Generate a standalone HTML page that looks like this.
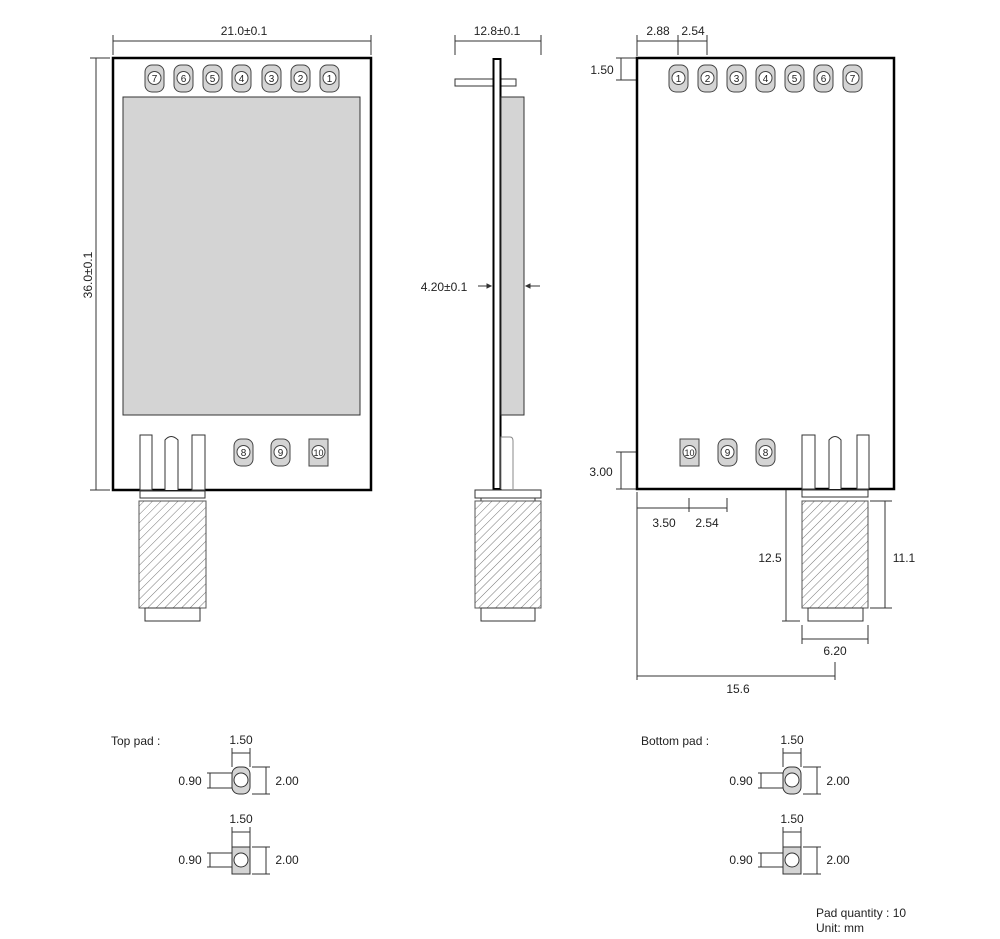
<!DOCTYPE html>
<html><head><meta charset="utf-8"><style>
html,body{margin:0;padding:0;background:#fff;width:1000px;height:939px;overflow:hidden}
svg{display:block}
text{font-family:"Liberation Sans",sans-serif;font-size:12px;fill:#222}
.pn{font-size:10px;text-anchor:middle}
</style></head><body>
<svg width="1000" height="939" viewBox="0 0 1000 939" xmlns="http://www.w3.org/2000/svg">
<defs>
<pattern id="h" width="6" height="6" patternUnits="userSpaceOnUse" patternTransform="rotate(45)">
<rect width="6" height="6" fill="#fff"/><line x1="0" y1="0" x2="0" y2="6" stroke="#777" stroke-width="1"/>
</pattern>
</defs>
<g fill="none" stroke="#333" stroke-width="1">
<!-- LEFT VIEW -->
<line x1="113" y1="41" x2="371" y2="41"/><line x1="113" y1="35" x2="113" y2="55"/><line x1="371" y1="35" x2="371" y2="55"/>
<line x1="96" y1="58" x2="96" y2="490"/><line x1="90" y1="58" x2="110" y2="58"/><line x1="90" y1="490" x2="110" y2="490"/>
<rect x="113" y="58" width="258" height="432" stroke="#000" stroke-width="2.5"/>
<rect x="123" y="97" width="237" height="318" fill="#d4d4d4" stroke="#333"/>
<rect x="140" y="435" width="12" height="55" fill="#fff"/>
<path d="M165 490 V440 Q171 433 178 440 V490" fill="#fff"/>
<rect x="192" y="435" width="13" height="55" fill="#fff"/>
<rect x="140" y="491" width="65" height="7" fill="#fff"/>
<rect x="139" y="501" width="67" height="107" fill="url(#h)" stroke="#555"/>
<rect x="145" y="608" width="55" height="13" fill="#fff"/>
<!-- SIDE VIEW -->
<line x1="455" y1="41" x2="541" y2="41"/><line x1="455" y1="35" x2="455" y2="55"/><line x1="541" y1="35" x2="541" y2="55"/>
<rect x="455" y="79" width="61" height="7" fill="#fff"/>
<rect x="493.5" y="59" width="7" height="430" fill="#fff" stroke="#000" stroke-width="2"/>
<rect x="501" y="97" width="23" height="318" fill="#d4d4d4"/>
<path d="M501 489 V437 H510 Q513 437 513 441 V489" fill="#fff" stroke="#888"/>
<rect x="475" y="490" width="66" height="8" fill="#fff"/>
<line x1="481" y1="498" x2="481" y2="501"/><line x1="535" y1="498" x2="535" y2="501"/>
<rect x="475" y="501" width="66" height="107" fill="url(#h)" stroke="#555"/>
<rect x="481" y="608" width="54" height="13" fill="#fff"/>
<line x1="478" y1="286" x2="491" y2="286"/><path d="M491 286 l-4 -2 v4z" fill="#333"/>
<line x1="526" y1="286" x2="540" y2="286"/><path d="M526 286 l4 -2 v4z" fill="#333"/>
<!-- RIGHT VIEW -->
<line x1="637" y1="41" x2="707" y2="41"/><line x1="637" y1="35" x2="637" y2="56"/><line x1="678" y1="35" x2="678" y2="55"/><line x1="707" y1="35" x2="707" y2="55"/>
<line x1="621" y1="58" x2="621" y2="80"/><line x1="616" y1="58" x2="636" y2="58"/><line x1="616" y1="80" x2="636" y2="80"/>
<line x1="621" y1="452" x2="621" y2="489"/><line x1="616" y1="452" x2="636" y2="452"/><line x1="616" y1="489" x2="636" y2="489"/>
<rect x="637" y="58" width="257" height="431" stroke="#000" stroke-width="2.5"/>
<rect x="802" y="435" width="13" height="54" fill="#fff"/>
<path d="M829 489 V440 Q835 433 841 440 V489" fill="#fff"/>
<rect x="857" y="435" width="12" height="54" fill="#fff"/>
<rect x="802" y="490" width="66" height="7" fill="#fff"/>
<rect x="802" y="501" width="66" height="107" fill="url(#h)" stroke="#555"/>
<rect x="808" y="608" width="55" height="13" fill="#fff"/>
<line x1="637" y1="492" x2="637" y2="680"/>
<line x1="637" y1="508" x2="727" y2="508"/><line x1="689" y1="498" x2="689" y2="512"/><line x1="727" y1="498" x2="727" y2="512"/>
<line x1="786" y1="490" x2="786" y2="621"/><line x1="782" y1="621" x2="800" y2="621"/>
<line x1="885" y1="501" x2="885" y2="608"/><line x1="870" y1="501" x2="892" y2="501"/><line x1="870" y1="608" x2="892" y2="608"/>
<line x1="802" y1="625" x2="802" y2="644"/><line x1="868" y1="625" x2="868" y2="644"/><line x1="802" y1="639" x2="868" y2="639"/>
<line x1="637" y1="676" x2="835" y2="676"/><line x1="835" y1="662" x2="835" y2="680"/>
<!-- PADS LEFT -->
<rect x="232" y="767" width="18" height="27" rx="7" fill="#d4d4d4"/><circle cx="241" cy="780" r="7" fill="#fff"/>
<line x1="232" y1="748" x2="232" y2="767"/><line x1="250" y1="748" x2="250" y2="767"/><line x1="232" y1="753" x2="250" y2="753"/>
<line x1="207" y1="773" x2="232" y2="773"/><line x1="207" y1="788" x2="232" y2="788"/><line x1="210" y1="773" x2="210" y2="788"/>
<line x1="252" y1="767" x2="270" y2="767"/><line x1="252" y1="794" x2="270" y2="794"/><line x1="266" y1="767" x2="266" y2="794"/>
<rect x="232" y="847" width="18" height="27" fill="#d4d4d4"/><circle cx="241" cy="860" r="7" fill="#fff"/>
<line x1="232" y1="827" x2="232" y2="847"/><line x1="250" y1="827" x2="250" y2="847"/><line x1="232" y1="832" x2="250" y2="832"/>
<line x1="207" y1="853" x2="232" y2="853"/><line x1="207" y1="867" x2="232" y2="867"/><line x1="210" y1="853" x2="210" y2="867"/>
<line x1="252" y1="847" x2="270" y2="847"/><line x1="252" y1="874" x2="270" y2="874"/><line x1="266" y1="847" x2="266" y2="874"/>
<!-- PADS RIGHT -->
<g transform="translate(551,0)">
<rect x="232" y="767" width="18" height="27" rx="7" fill="#d4d4d4"/><circle cx="241" cy="780" r="7" fill="#fff"/>
<line x1="232" y1="748" x2="232" y2="767"/><line x1="250" y1="748" x2="250" y2="767"/><line x1="232" y1="753" x2="250" y2="753"/>
<line x1="207" y1="773" x2="232" y2="773"/><line x1="207" y1="788" x2="232" y2="788"/><line x1="210" y1="773" x2="210" y2="788"/>
<line x1="252" y1="767" x2="270" y2="767"/><line x1="252" y1="794" x2="270" y2="794"/><line x1="266" y1="767" x2="266" y2="794"/>
<rect x="232" y="847" width="18" height="27" fill="#d4d4d4"/><circle cx="241" cy="860" r="7" fill="#fff"/>
<line x1="232" y1="827" x2="232" y2="847"/><line x1="250" y1="827" x2="250" y2="847"/><line x1="232" y1="832" x2="250" y2="832"/>
<line x1="207" y1="853" x2="232" y2="853"/><line x1="207" y1="867" x2="232" y2="867"/><line x1="210" y1="853" x2="210" y2="867"/>
<line x1="252" y1="847" x2="270" y2="847"/><line x1="252" y1="874" x2="270" y2="874"/><line x1="266" y1="874" x2="266" y2="847"/>
</g>
</g>
<!-- pin pads -->
<g stroke="#444" stroke-width="1">
<g fill="#d4d4d4">
<rect x="145" y="65" width="19" height="27" rx="7"/><rect x="174" y="65" width="19" height="27" rx="7"/><rect x="203" y="65" width="19" height="27" rx="7"/><rect x="232" y="65" width="19" height="27" rx="7"/><rect x="262" y="65" width="19" height="27" rx="7"/><rect x="291" y="65" width="19" height="27" rx="7"/><rect x="320" y="65" width="19" height="27" rx="7"/>
<rect x="234" y="439" width="19" height="27" rx="7"/><rect x="271" y="439" width="19" height="27" rx="7"/><rect x="309" y="439" width="19" height="27"/>
<rect x="669" y="65" width="19" height="27" rx="7"/><rect x="698" y="65" width="19" height="27" rx="7"/><rect x="727" y="65" width="19" height="27" rx="7"/><rect x="756" y="65" width="19" height="27" rx="7"/><rect x="785" y="65" width="19" height="27" rx="7"/><rect x="814" y="65" width="19" height="27" rx="7"/><rect x="843" y="65" width="19" height="27" rx="7"/>
<rect x="680" y="439" width="19" height="27"/><rect x="718" y="439" width="19" height="27" rx="7"/><rect x="756" y="439" width="19" height="27" rx="7"/>
</g>
<g fill="#fff">
<circle cx="154.5" cy="78" r="6.5"/><circle cx="183.5" cy="78" r="6.5"/><circle cx="212.5" cy="78" r="6.5"/><circle cx="241.5" cy="78" r="6.5"/><circle cx="271.5" cy="78" r="6.5"/><circle cx="300.5" cy="78" r="6.5"/><circle cx="329.5" cy="78" r="6.5"/>
<circle cx="243.5" cy="452" r="6.5"/><circle cx="280.5" cy="452" r="6.5"/><circle cx="318.5" cy="452" r="6.5"/>
<circle cx="678.5" cy="78" r="6.5"/><circle cx="707.5" cy="78" r="6.5"/><circle cx="736.5" cy="78" r="6.5"/><circle cx="765.5" cy="78" r="6.5"/><circle cx="794.5" cy="78" r="6.5"/><circle cx="823.5" cy="78" r="6.5"/><circle cx="852.5" cy="78" r="6.5"/>
<circle cx="689.5" cy="452" r="6.5"/><circle cx="727.5" cy="452" r="6.5"/><circle cx="765.5" cy="452" r="6.5"/>
</g>
</g>
<g class="pn">
<text class="pn" x="154.5" y="82">7</text><text class="pn" x="183.5" y="82">6</text><text class="pn" x="212.5" y="82">5</text><text class="pn" x="241.5" y="82">4</text><text class="pn" x="271.5" y="82">3</text><text class="pn" x="300.5" y="82">2</text><text class="pn" x="329.5" y="82">1</text>
<text class="pn" x="243.5" y="456">8</text><text class="pn" x="280.5" y="456">9</text><text class="pn" x="318.5" y="456" style="font-size:9px">10</text>
<text class="pn" x="678.5" y="82">1</text><text class="pn" x="707.5" y="82">2</text><text class="pn" x="736.5" y="82">3</text><text class="pn" x="765.5" y="82">4</text><text class="pn" x="794.5" y="82">5</text><text class="pn" x="823.5" y="82">6</text><text class="pn" x="852.5" y="82">7</text>
<text class="pn" x="689.5" y="456" style="font-size:9px">10</text><text class="pn" x="727.5" y="456">9</text><text class="pn" x="765.5" y="456">8</text>
</g>
<g text-anchor="middle">
<text x="244" y="35">21.0±0.1</text>
<text x="92" y="275" transform="rotate(-90 92 275)">36.0±0.1</text>
<text x="497" y="35">12.8±0.1</text>
<text x="444" y="291">4.20±0.1</text>
<text x="658" y="35">2.88</text><text x="693" y="35">2.54</text>
<text x="602" y="74">1.50</text>
<text x="601" y="476">3.00</text>
<text x="664" y="527">3.50</text><text x="707" y="527">2.54</text>
<text x="770" y="562">12.5</text><text x="904" y="562">11.1</text>
<text x="835" y="655">6.20</text>
<text x="738" y="693">15.6</text>
<text x="241" y="744">1.50</text><text x="190" y="785">0.90</text><text x="287" y="785">2.00</text>
<text x="241" y="823">1.50</text><text x="190" y="864">0.90</text><text x="287" y="864">2.00</text>
<text x="792" y="744">1.50</text><text x="741" y="785">0.90</text><text x="838" y="785">2.00</text>
<text x="792" y="823">1.50</text><text x="741" y="864">0.90</text><text x="838" y="864">2.00</text>
</g>
<text x="111" y="745">Top pad :</text>
<text x="641" y="745">Bottom pad :</text>
<text x="816" y="917">Pad quantity : 10</text>
<text x="816" y="932">Unit:  mm</text>
</svg>
</body></html>
